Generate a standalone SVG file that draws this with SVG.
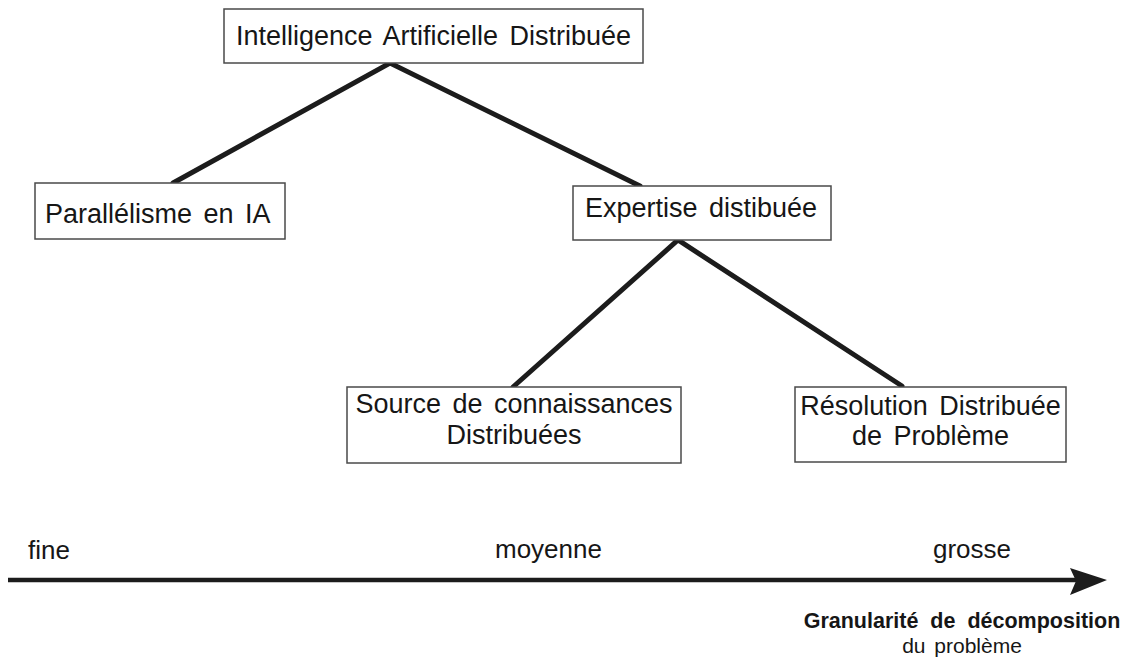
<svg xmlns="http://www.w3.org/2000/svg" width="1131" height="665" viewBox="0 0 1131 665">
  <style>
    .box { fill: #ffffff; stroke: #4a4a4a; stroke-width: 1.5; }
    .lbl { font-family: "Liberation Sans", Arial, sans-serif; font-size: 27px; fill: #161616; word-spacing: 4px; }
    .edge { stroke: #1c1c1c; stroke-width: 5; fill: none; stroke-linecap: round; stroke-linejoin: miter; }
    .axis { font-family: "Liberation Sans", Arial, sans-serif; fill: #161616; }
  </style>
  <rect width="1131" height="665" fill="#ffffff"/>

  <!-- tree connectors -->
  <g id="connectors">
    <polyline class="edge" points="173,183 390,63 640,186"/>
    <polyline class="edge" points="513,387 678,240 902,386"/>
  </g>

  <g id="node-iad">
    <rect class="box" x="224" y="9" width="419" height="54"/>
    <text class="lbl" x="433.5" y="45" text-anchor="middle">Intelligence Artificielle Distribuée</text>
  </g>

  <g id="node-parallelisme">
    <rect class="box" x="35" y="183" width="250" height="56"/>
    <text class="lbl" x="45" y="223">Parallélisme en IA</text>
  </g>

  <g id="node-expertise">
    <rect class="box" x="573" y="186" width="258" height="54"/>
    <text class="lbl" x="585" y="217">Expertise distibuée</text>
  </g>

  <g id="node-source">
    <rect class="box" x="347" y="387" width="334" height="76"/>
    <text class="lbl" x="514" y="413" text-anchor="middle">Source de connaissances</text>
    <text class="lbl" x="514" y="444" text-anchor="middle">Distribuées</text>
  </g>

  <g id="node-resolution">
    <rect class="box" x="795" y="387" width="271" height="75"/>
    <text class="lbl" x="930.5" y="415" text-anchor="middle">Résolution Distribuée</text>
    <text class="lbl" x="930.5" y="445" text-anchor="middle">de Problème</text>
  </g>

  <!-- granularity axis -->
  <g id="axis">
    <line x1="8" y1="580" x2="1080" y2="580" stroke="#1c1c1c" stroke-width="4.5"/>
    <polygon points="1070,568 1107,580 1070,595 1076,581" fill="#1c1c1c"/>
    <text class="axis" x="28" y="559" font-size="26">fine</text>
    <text class="axis" x="495" y="558" font-size="26">moyenne</text>
    <text class="axis" x="933" y="558" font-size="26">grosse</text>
    <text class="axis" x="962" y="628" font-size="21.5" font-weight="bold" text-anchor="middle" word-spacing="6">Granularité de décomposition</text>
    <text class="axis" x="962" y="653" font-size="21" text-anchor="middle" word-spacing="3">du problème</text>
  </g>
</svg>
